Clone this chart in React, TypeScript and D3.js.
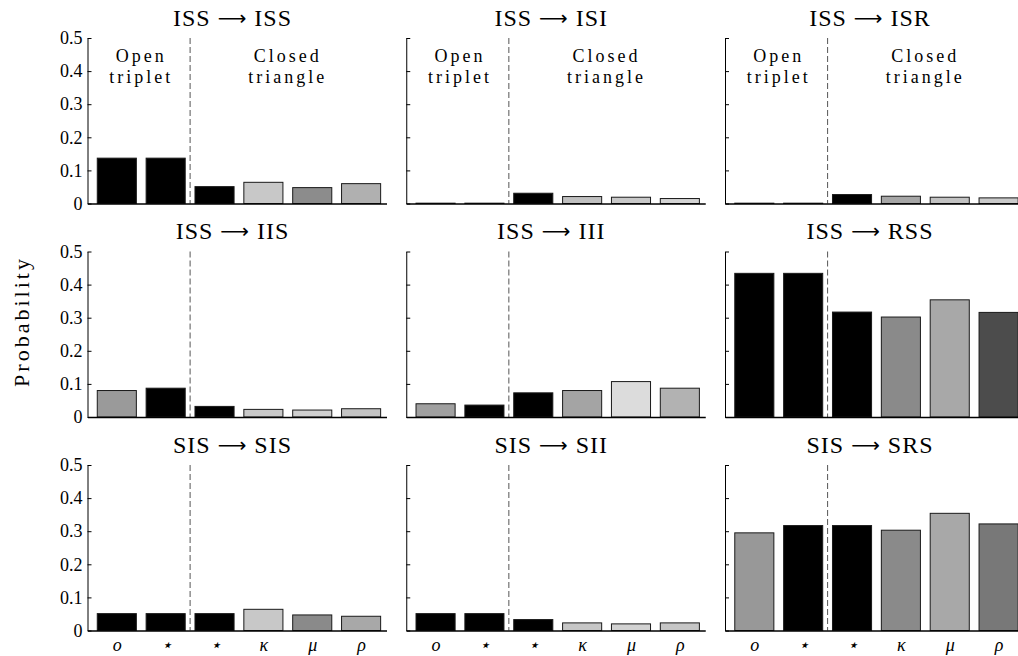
import React, { useEffect, useRef } from 'react';
import * as d3 from 'd3';

// bar categories (x tick labels)
const categories = ['o', '⋆', '⋆', 'κ', 'μ', 'ρ'];
const panelTitles = [
	'ISS → ISS', 'ISS → ISI', 'ISS → ISR',
	'ISS → IIS', 'ISS → III', 'ISS → RSS',
	'SIS → SIS', 'SIS → SII', 'SIS → SRS',
];
// probabilities, one array per panel
const issToIss = [0.137, 0.137, 0.051, 0.064, 0.048, 0.060];
const issToIsi = [0.001, 0.001, 0.031, 0.021, 0.019, 0.015];
const issToIsr = [0.001, 0.001, 0.027, 0.022, 0.019, 0.017];
const issToIis = [0.080, 0.087, 0.032, 0.023, 0.021, 0.025];
const issToIii = [0.040, 0.036, 0.073, 0.080, 0.107, 0.087];
const issToRss = [0.434, 0.434, 0.317, 0.302, 0.354, 0.316];
const sisToSis = [0.051, 0.051, 0.051, 0.064, 0.047, 0.043];
const sisToSii = [0.051, 0.051, 0.033, 0.023, 0.020, 0.023];
const sisToSrs = [0.295, 0.317, 0.317, 0.303, 0.354, 0.322];
const yTicks = [0, 0.1, 0.2, 0.3, 0.4, 0.5];

const panelValues = [issToIss, issToIsi, issToIsr, issToIis, issToIii, issToRss, sisToSis, sisToSii, sisToSrs];

// grey level of every bar (0 = black)
const barGrays = [
	[0, 0, 0, 200, 140, 176],
	[0, 0, 0, 192, 200, 212],
	[0, 0, 0, 166, 194, 202],
	[154, 0, 0, 200, 207, 196],
	[160, 0, 0, 164, 220, 178],
	[0, 0, 0, 138, 168, 76],
	[0, 0, 0, 200, 138, 168],
	[0, 0, 0, 198, 210, 198],
	[152, 0, 0, 138, 168, 120],
];

const serif = 'Liberation Serif, DejaVu Serif, serif';

const drawChart = (element: SVGSVGElement) => {
	const svg = d3.select(element);
	svg.selectAll('*').remove();

	const left0 = 87.5;
	const colStep = 318.75;
	const top0 = 38;
	const rowStep = 213.5;
	const w = 299;
	const h = 165.5;

	const x = d3.scaleLinear().domain([0.4, 6.52]).range([0, w]);
	const y = d3.scaleLinear().domain([0, 0.5]).range([h, 0]);
	const bw = x(1.8) - x(1);

	panelValues.forEach((values, p) => {
		const row = Math.floor(p / 3);
		const col = p % 3;
		const g = svg.append('g').attr('transform', `translate(${left0 + col * colStep}, ${top0 + row * rowStep})`);

		// title: state before and after, with a long thin arrow between
		const [from, to] = panelTitles[p].split(' → ');
		const title = g.append('text')
			.attr('x', 145)
			.attr('y', -12.5)
			.attr('text-anchor', 'middle')
			.attr('font-family', serif)
			.attr('font-size', 24)
			.style('letter-spacing', '1px');
		title.append('tspan').text(from + ' ');
		title.append('tspan')
			.attr('font-family', 'DejaVu Sans')
			.attr('font-size', 20)
			.attr('dy', -1)
			.text('⟶');
		title.append('tspan').attr('dy', 1).text(' ' + to);

		g.selectAll('rect.bar')
			.data(values)
			.enter()
			.append('rect')
			.attr('class', 'bar')
			.attr('x', (d, i) => x(i + 1) - bw / 2)
			.attr('width', bw)
			.attr('y', (d) => y(d))
			.attr('height', (d) => h - y(d))
			.style('fill', (d, i) => d3.rgb(barGrays[p][i], barGrays[p][i], barGrays[p][i]).toString())
			.style('stroke', '#1a1a1a')
			.style('stroke-width', 1);

		g.append('line')
			.attr('x1', x(2.5))
			.attr('x2', x(2.5))
			.attr('y1', 0)
			.attr('y2', h)
			.style('stroke', '#555')
			.style('stroke-width', 1)
			.style('stroke-dasharray', '6,3');

		if (row === 0) {
			[[1.5, 'Open', 'triplet'], [4.5, 'Closed', 'triangle']].forEach(([pos, a, b]) => {
				[a, b].forEach((txt, k) => {
					g.append('text')
						.attr('x', x(pos as number))
						.attr('y', y(k === 0 ? 0.428 : 0.364))
						.attr('text-anchor', 'middle')
						.attr('font-family', serif)
						.attr('font-size', 18)
						.style('letter-spacing', '3px')
						.text(txt as string);
				});
			});
		}

		const yAxis = d3.axisLeft(y)
			.tickValues(yTicks)
			.tickSizeInner(-4)
			.tickSizeOuter(0)
			.tickPadding(5)
			.tickFormat((d) => (col === 0 ? (+d === 0 ? '0' : (+d).toFixed(1)) : ''));
		const ya = g.append('g').call(yAxis);
		ya.attr('font-family', serif).attr('font-size', 18);
		ya.selectAll('text').attr('fill', '#000');
		ya.selectAll('line, path').attr('stroke', '#000');

		const xAxis = d3.axisBottom(x)
			.tickValues([1, 2, 3, 4, 5, 6])
			.tickSize(0)
			.tickPadding(8)
			.tickFormat((d) => (row === 2 ? categories[+d - 1] : ''));
		const xa = g.append('g').attr('transform', `translate(0, ${h})`).call(xAxis);
		xa.attr('font-family', serif).attr('font-size', 18);
		xa.select('path').attr('stroke', '#000').attr('stroke-width', 1.3);
		xa.selectAll('text')
			.style('font-style', 'italic')
			.attr('fill', '#000');
	});

	svg.append('text')
		.attr('transform', 'translate(29, 321.5) rotate(-90)')
		.attr('text-anchor', 'middle')
		.attr('font-family', serif)
		.attr('font-size', 22)
		.style('letter-spacing', '3px')
		.text('Probability');
};

export default function App() {
	const svgRef = useRef<SVGSVGElement>(null);

	useEffect(() => {
		if (svgRef.current) {
			drawChart(svgRef.current);
		}
	}, []);

	return (
		<div style={{ position: 'absolute', left: 0, top: 0 }}>
			<svg ref={svgRef} width={1018} height={656} style={{ display: 'block', background: '#fff' }} />
		</div>
	);
}
